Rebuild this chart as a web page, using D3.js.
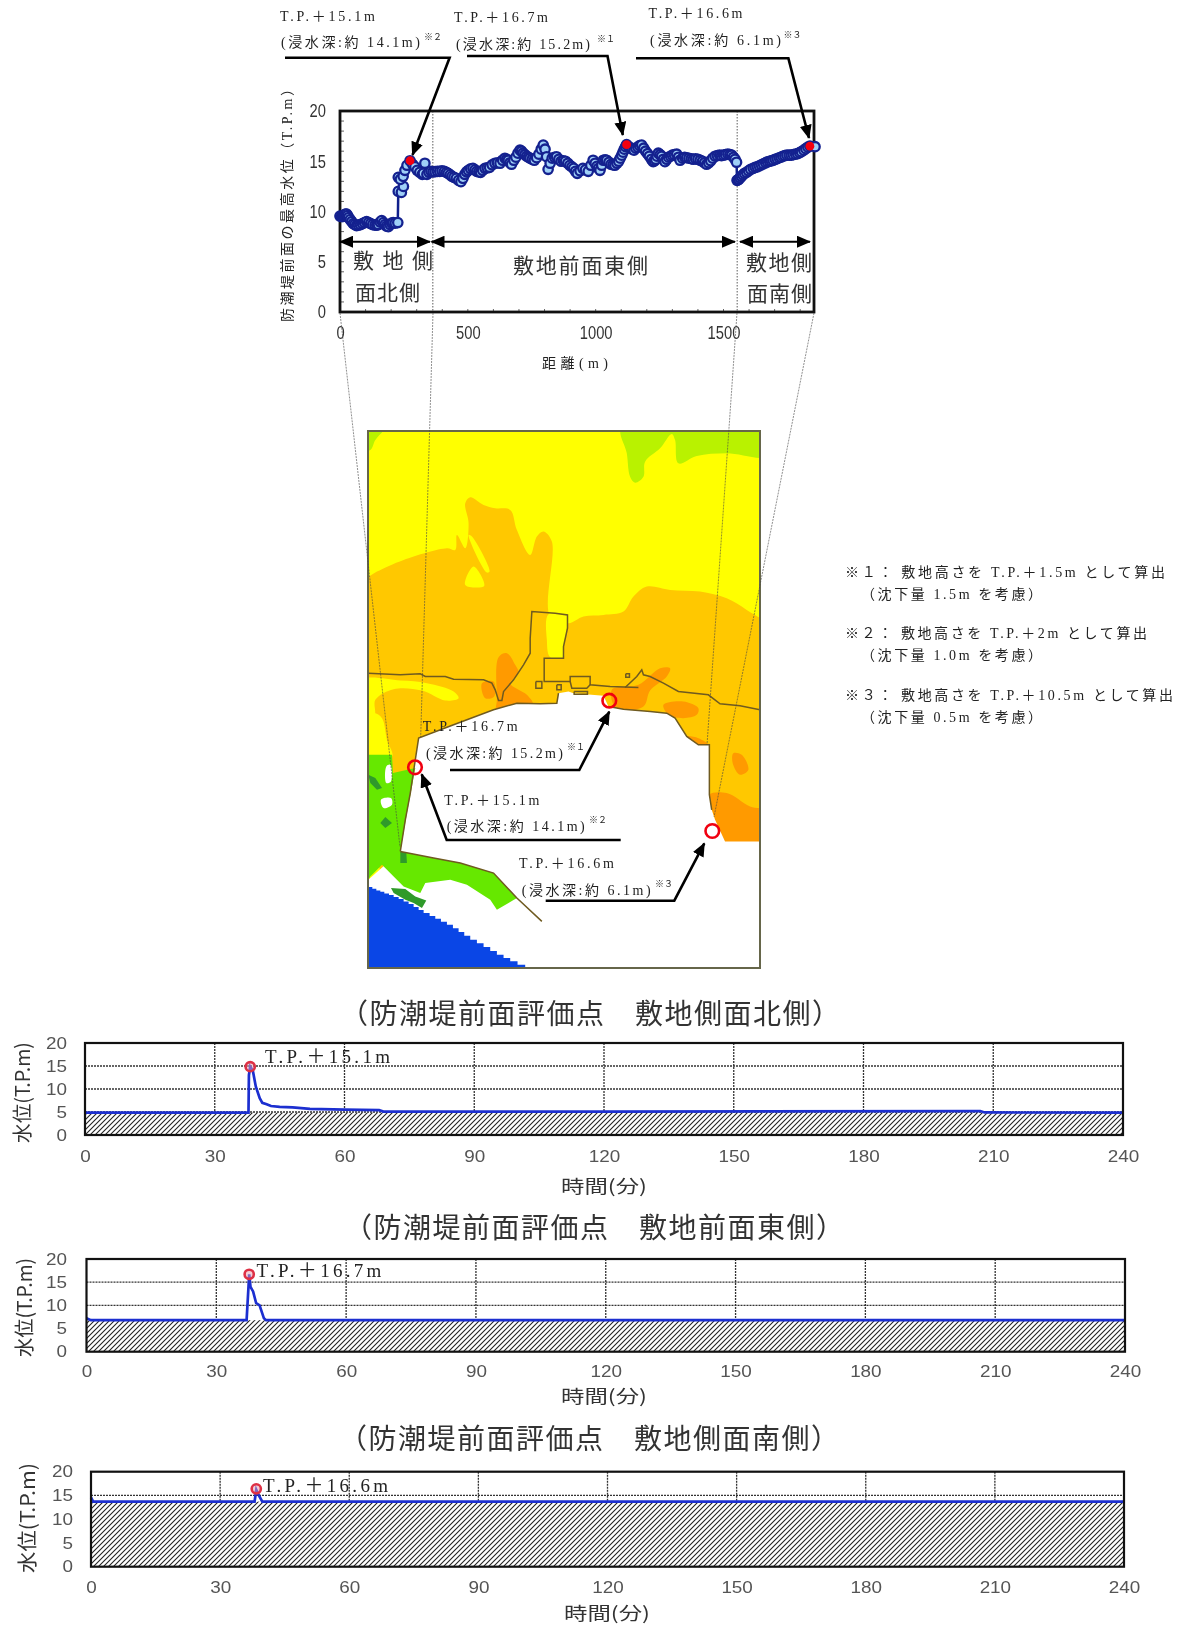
<!DOCTYPE html>
<html>
<head>
<meta charset="utf-8">
<script src="https://cdnjs.cloudflare.com/ajax/libs/d3/7.8.5/d3.min.js"></script>
<style>
html, body { margin: 0; padding: 0; background: #fff; }
svg { display: block; filter: blur(0.5px); }
</style>
</head>
<body>
<svg width="1186" height="1625"></svg>
<script>
// profile along the seawall: [distance (m), max water level (T.P. m)], in plotting order
var profilePoints = [[0,9.55],[6,9.5],[10,9.5],[14,9.6],[18,9.7],[22,9.75],[26,9.75],[30,9.6],[34,9.4],[40,9.2],[46,9.0],[52,8.8],[58,8.7],[65,8.6],[72,8.65],[80,8.7],[88,8.8],[96,8.9],[104,9.0],[112,8.9],[120,8.8],[128,8.7],[137,8.65],[144,8.65],[150,8.7],[157,8.95],[163,9.1],[170,8.9],[176,8.7],[182,8.55],[189,8.5],[196,8.7],[202,8.85],[208,8.9],[216,8.85],[226,8.9],
  [228,12.0],[240,11.9],[248,12.5],[238,13.3],[228,13.4],[236,13.2],[247,13.5],[254,14.1],[262,14.6],[274,15.05],[284,14.7],[293,14.45],[302,14.1],[312,13.9],[322,13.7],[332,14.8],[326,13.8],
  [340,13.7],[348,13.9],[356,14],[364,13.95],[372,13.96],[381,14],[390,14],[399,14.05],[408,14],[416,13.9],[423,13.8],[431,13.65],[438,13.5],[446,13.4],[455,13.3],[464,13.1],[473,12.97],[481,13.3],[488,13.7],[495,13.95],[502,14.1],[511,14.25],[520,14.3],[528,14.15],[535,14],[543,13.95],[550,13.9],[558,14.1],[567,14.3],[576,14.35],[585,14.4],[595,14.65],[606,14.8],[616,14.85],[626,14.8],[636,15.1],[645,15.3],[652,15.2],[658,15.1],[665,14.85],[671,14.7],[680,15.1],[688,15.4],[696,15.8],[704,16.1],[710,16],[716,15.8],[723,15.65],[730,15.5],[737,15.4],[743,15.3],[752,15.2],[760,15.1],[769,15.35],[778,15.7],[787,16.2],[795,16.6],[802,16.2],[808,15.45],[814,14.2],[822,14.8],[830,15.3],[839,15.4],[847,15.45],[856,15.2],[865,15],[874,15.05],[882,15],[891,14.8],[899,14.6],[907,14.45],[914,14.3],[921,14],[928,13.8],[939,14.05],[950,14.3],[960,14.15],[971,14],[981,14.6],[990,15.1],[998,14.8],[1005,14.5],[1011,14.3],[1017,14.1],[1024,14.6],[1030,15.1],[1037,15.15],[1043,15.1],[1052,14.9],[1060,14.7],[1068,14.65],[1075,14.6],[1083,14.8],[1090,15],[1096,15.3],[1102,15.6],[1107,15.9],[1112,16.2],[1117,16.45],[1121,16.65],[1129,16.45],[1136,16.3],[1143,16.2],[1150,16.1],[1157,16.3],[1165,16.4],[1172,16.55],[1180,16.6],[1188,16.3],[1195,16],[1203,15.75],[1210,15.5],[1218,15.2],[1225,14.96],[1230,15.05],[1235,15.2],[1240,15.5],[1245,15.8],[1252,15.65],[1258,15.5],[1265,15.2],[1271,14.96],[1278,15.2],[1285,15.4],[1293,15.5],[1300,15.6],[1308,15.65],[1317,15.7],[1324,15.4],[1330,15.1],
  [1340,15.3],[1348,15.4],[1356,15.35],[1365,15.3],[1374,15.25],[1382,15.2],[1391,15.25],[1400,15.2],[1409,15.1],[1418,15],[1426,14.85],[1434,14.7],[1442,14.85],[1450,15.05],[1458,15.3],[1467,15.5],[1476,15.55],[1485,15.6],[1492,15.55],[1500,15.6],[1508,15.65],[1517,15.7],[1525,15.65],[1532,15.6],[1539,15.4],[1545,15.2],[1551,14.9],
  [1553,13.1],[1556,13.15],[1560,13.2],[1565,13.35],[1570,13.5],[1576,13.65],[1582,13.8],[1590,13.9],[1598,14.05],[1606,14.2],[1616,14.3],[1624,14.4],[1632,14.45],[1640,14.55],[1648,14.65],[1656,14.75],[1665,14.85],[1672,14.95],[1680,15],[1687,15.05],[1694,15.1],[1702,15.2],[1710,15.25],[1718,15.35],[1725,15.4],[1732,15.5],[1740,15.55],[1748,15.6],[1757,15.6],[1765,15.6],[1773,15.65],[1782,15.7],[1790,15.75],[1798,15.85],[1805,15.95],[1814,16.1],[1822,16.25],[1830,16.4],[1838,16.5],[1858,16.45]];
var peakDistances = [274, 1121, 1838];
var peakLevels = [15.05, 16.65, 16.5];
var distanceTicks = [0, 500, 1000, 1500];
var levelTicks = [0, 5, 10, 15, 20];
var timeTicks = [0, 30, 60, 90, 120, 150, 180, 210, 240];

// time series under the map
var timesNorth = [0,37.8,37.9,38.2,38.8,39.5,40.4,41,42,43,45,48,52,60,68,69,120,207,208,240];
var levelsNorth = [4.85,4.85,13,14.85,14,10.5,8,7,6.7,6.3,6.1,6,5.7,5.5,5.4,5.1,5.1,5.2,4.9,4.85];
var timesEast = [0,1,37,37.6,37.9,38.5,39.2,40,41,41.5,240];
var levelsEast = [7.2,6.8,6.8,16.7,14,13,10.5,10,7.2,6.8,6.8];
var timesSouth = [0,0.5,38,38.4,39,39.8,240];
var levelsSouth = [14.6,13.7,13.7,16.2,15,13.7,13.7];

var panelTitles = ['（防潮堤前面評価点　敷地側面北側）', '（防潮堤前面評価点　敷地前面東側）', '（防潮堤前面評価点　敷地側面南側）'];
var panelPeakLabels = ['T.P.＋15.1m', 'T.P.＋16.7m', 'T.P.＋16.6m'];
var panelBaseLevels = [4.85, 6.8, 13.7];
var panelPeakTimes = [38.2, 37.6, 38.4];
var panelPeakLevels = [14.85, 16.7, 16.4];

var footnotes = ['※１： 敷地高さを T.P.＋1.5m として算出', '（沈下量 1.5m を考慮）', '※２： 敷地高さを T.P.＋2m として算出', '（沈下量 1.0m を考慮）', '※３： 敷地高さを T.P.＋10.5m として算出', '（沈下量 0.5m を考慮）'];

// map shapes, in grid units of the inundation map
var lightGreenAreas = [
  [[30,20],[105,20],[75,60],[60,90],[30,90]],
  [[815,20],[1260,20],[1260,108],[1130,100],[1040,108],[985,130],[975,60],[965,42],[930,85],[885,125],[880,170],[855,188],[840,170],[830,100]]
];
var orangeArea = [[20,480],[54,470],[80,455],[160,420],[290,385],[315,390],[320,345],[345,385],[355,310],[345,250],[360,232],[400,255],[435,265],[480,270],[500,330],[540,405],[560,350],[580,335],[605,365],[600,590],[655,610],[700,590],[760,585],[820,575],[850,530],[890,500],[960,510],[1050,515],[1130,535],[1190,570],[1260,630],[1260,1300],[20,1300]];
var yellowAreas = [
  [[595,583],[650,585],[650,625],[640,680],[640,712],[600,712],[590,660]],
  [[355,345],[365,350],[418,455],[410,458]],
  [[345,495],[370,440],[402,498]],
  [[30,782],[150,782],[230,790],[310,815],[325,835],[285,842],[215,812],[130,808],[75,840],[72,885],[30,880]],
  [[30,878],[70,878],[95,895],[110,960],[125,1010],[30,1010]]
];
var deepOrangeAreas = [
  [[445,712],[470,700],[495,735],[505,760],[480,790],[530,825],[548,855],[440,875],[440,840]],
  [[395,790],[430,785],[432,830],[405,835]],
  [[865,795],[930,745],[960,745],[950,770],[900,812],[880,860],[800,868],[785,810]],
  [[940,855],[1000,845],[1045,865],[1040,885],[1000,895],[955,885]],
  [[1150,1000],[1175,1005],[1195,1050],[1170,1065],[1148,1030]],
  [[1078,1125],[1130,1120],[1200,1160],[1260,1175],[1260,1300],[1125,1300],[1095,1200],[1085,1170]],
  [[1010,950],[1045,955],[1075,975],[1045,985]]
];
var landWhite = [[205,955],[310,915],[430,870],[500,850],[570,852],[620,850],[625,820],[655,815],[670,820],[760,828],[775,860],[820,868],[900,875],[950,880],[975,895],[1010,950],[1045,975],[1078,975],[1078,1125],[1085,1170],[1095,1200],[1125,1265],[1230,1265],[1230,1645],[54,1645],[54,1380],[150,1295]];
var greenArea = [[54,1005],[125,1005],[128,1060],[195,1045],[185,1100],[170,1180],[150,1295],[250,1315],[330,1330],[430,1360],[500,1435],[440,1470],[420,1440],[350,1395],[300,1380],[225,1390],[210,1420],[160,1400],[130,1370],[95,1335],[60,1370],[54,1380]];
var greenHoles = [
  [[92,1140],[122,1135],[125,1155],[100,1165]],
  [[108,1040],[120,1035],[122,1085],[108,1090]]
];
var darkGreenAreas = [
  [[105,1192],[125,1210],[105,1225],[90,1210]],
  [[150,1295],[168,1300],[170,1330],[150,1330]],
  [[122,1405],[165,1408],[195,1430],[228,1442],[215,1465],[190,1450],[165,1440],[130,1420]],
  [[54,1065],[75,1075],[95,1105],[80,1110],[60,1090]]
];
var seaArea = [[54,1402],[66,1407],[78,1412],[90,1416],[102,1421],[116,1426],[130,1432],[145,1438],[160,1445],[175,1453],[190,1462],[205,1471],[220,1480],[238,1489],[255,1497],[272,1506],[290,1515],[308,1526],[325,1537],[342,1548],[360,1560],[380,1571],[400,1582],[420,1594],[440,1605],[460,1615],[480,1625],[502,1635],[525,1645],[54,1645]];
var outlines = [
  [[54,760],[150,765],[210,762],[225,770],[285,770],[310,778],[400,780],[425,790],[435,810],[445,842],[455,842],[460,815],[490,780],[520,735],[540,700],[540,655],[545,575],[615,580],[652,585],[652,625],[640,680],[640,715],[582,715],[582,785],[660,785],[660,770],[720,770],[720,795],[780,800],[865,803]],
  [[825,803],[860,770],[875,750],[880,765],[900,770],[940,790],[985,815],[1075,825],[1110,852],[1170,858],[1230,870]],
  [[660,785],[665,805],[710,805],[720,795]],
  [[557,785],[575,785],[575,805],[557,805],[557,785]],
  [[620,795],[633,795],[633,810],[620,810],[620,795]],
  [[827,762],[838,762],[838,772],[827,772],[827,762]],
  [[672,815],[712,815],[712,823],[672,823],[672,815]],
  [[150,1295],[165,1200],[180,1120],[195,1020],[205,955],[310,915],[430,870],[500,850],[570,852],[620,850],[625,820]],
  [[775,860],[820,868],[900,875],[950,880],[975,895],[1010,950],[1045,975],[1078,975],[1078,1125],[1085,1170]],
  [[150,1295],[250,1315],[330,1330],[430,1360],[500,1435],[575,1505]]
];

var svg = d3.select('svg');
var sansFont = '"Liberation Sans", Arial, sans-serif';
var minchoFont = '"Liberation Serif", "Noto Sans CJK JP", serif';
var cjkFont = '"Noto Sans CJK JP", sans-serif';
var line = d3.line().x(function(d) { return d[0]; }).y(function(d) { return d[1]; });

var defs = svg.append('defs');
defs.append('marker')
  .attr('id', 'head').attr('markerUnits', 'userSpaceOnUse')
  .attr('markerWidth', 14).attr('markerHeight', 12)
  .attr('refX', 13).attr('refY', 6).attr('orient', 'auto-start-reverse')
  .append('path').attr('d', 'M0,0L14,6L0,12Z').attr('fill', '#000');

var hatch = defs.append('pattern')
  .attr('id', 'hatch').attr('patternUnits', 'userSpaceOnUse')
  .attr('width', 5).attr('height', 5);
hatch.append('path').attr('d', 'M-1,6L6,-1M-1,1L1,-1M4,6L6,4').attr('stroke', '#222').attr('stroke-width', 1.1);

defs.append('clipPath').attr('id', 'mapClip').append('rect')
  .attr('x', 368).attr('y', 431).attr('width', 392).attr('height', 537);

// fitted text: the width is forced so it lines up with the Mincho in the reference
function label(x, y, str, width, size, opts) {
  opts = opts || {};
  var t = svg.append('text')
    .attr('x', x).attr('y', y)
    .attr('font-family', opts.font || minchoFont)
    .attr('font-size', size)
    .attr('fill', opts.fill || '#222')
    .text(str);
  if (width) t.attr('textLength', width).attr('lengthAdjust', opts.adjust || 'spacing');
  if (opts.rotate) t.attr('transform', 'rotate(-90,' + x + ',' + y + ')');
  return t;
}

function arrowLine(points, width) {
  svg.append('path').attr('d', line(points))
    .attr('fill', 'none').attr('stroke', '#000').attr('stroke-width', width || 2.6)
    .attr('marker-end', 'url(#head)');
}

function callout(x1, y1, w1, x2, y2, w2, nx, ny, first, second, note) {
  label(x1, y1, first, w1, 14);
  label(x2, y2, second, w2, 14);
  label(nx, ny, note, 18, 9, {font: cjkFont});
}

function styleTicks(axis, size, fill, digitWidth) {
  axis.select('.domain').remove();
  axis.selectAll('text')
    .attr('font-family', sansFont).attr('font-size', size).attr('fill', fill)
    .attr('lengthAdjust', 'spacingAndGlyphs')
    .attr('textLength', function() { return this.textContent.length * digitWidth; });
}

/* ---------- profile chart ---------- */
var profileX = d3.scaleLinear().domain([0, 1500]).range([340, 723.5]);
var profileY = d3.scaleLinear().domain([0, 20]).range([312, 111]);

var minorX = d3.range(100, 1900, 100);
var minorY = d3.range(1, 20);
svg.append('g').selectAll('line').data(minorX).enter().append('line')
  .attr('x1', profileX).attr('x2', profileX).attr('y1', 312).attr('y2', 309)
  .attr('stroke', '#666').attr('stroke-width', 1);
svg.append('g').selectAll('line').data(minorY).enter().append('line')
  .attr('y1', profileY).attr('y2', profileY).attr('x1', 340).attr('x2', 344)
  .attr('stroke', '#666').attr('stroke-width', 1);

[432.8, 737.2].forEach(function(x) {
  svg.append('line').attr('x1', x).attr('x2', x).attr('y1', 111).attr('y2', 312)
    .attr('stroke', '#777').attr('stroke-width', 1.2).attr('stroke-dasharray', '1.5,1.5');
});

svg.append('rect').attr('x', 340).attr('y', 111).attr('width', 474).attr('height', 201)
  .attr('fill', 'none').attr('stroke', '#111').attr('stroke-width', 2.8);

svg.append('path')
  .attr('d', d3.line().x(function(d) { return profileX(d[0]); }).y(function(d) { return profileY(d[1]); })(profilePoints))
  .attr('fill', 'none').attr('stroke', '#10208c').attr('stroke-width', 2.5);
svg.append('g').selectAll('circle').data(profilePoints).enter().append('circle')
  .attr('cx', function(d) { return profileX(d[0]); })
  .attr('cy', function(d) { return profileY(d[1]); })
  .attr('r', 4.7)
  .attr('fill', '#9fd0f7').attr('stroke', '#14218f').attr('stroke-width', 2.3);
svg.append('g').selectAll('circle').data(d3.zip(peakDistances, peakLevels)).enter().append('circle')
  .attr('cx', function(d) { return profileX(d[0]); })
  .attr('cy', function(d) { return profileY(d[1]); })
  .attr('r', 4.4).attr('fill', '#f5000f');

var profileAxisX = svg.append('g').attr('transform', 'translate(0,312)')
  .call(d3.axisBottom(profileX).tickValues(distanceTicks).tickFormat(d3.format('d')).tickSize(0).tickPadding(14));
var profileAxisY = svg.append('g').attr('transform', 'translate(340,0)')
  .call(d3.axisLeft(profileY).tickValues(levelTicks).tickSize(0).tickPadding(14));
styleTicks(profileAxisX, 18, '#333', 8.2);
styleTicks(profileAxisY, 18, '#333', 8.2);

label(292, 322, '防潮堤前面の最高水位（T.P.m）', 240, 14, {rotate: true});
label(542, 368, '距離(m)', 66, 14);

function doubleArrow(x1, x2, y) {
  svg.append('line').attr('x1', x1).attr('x2', x2).attr('y1', y).attr('y2', y)
    .attr('stroke', '#000').attr('stroke-width', 2)
    .attr('marker-start', 'url(#head)').attr('marker-end', 'url(#head)');
}
doubleArrow(340, 430, 241.7);
doubleArrow(431.5, 735, 241.7);
doubleArrow(740, 810, 241.7);

label(353, 268, '敷 地 側', 80, 21, {font: cjkFont, fill: '#333'});
label(355, 300, '面北側', 65, 21, {font: cjkFont, fill: '#333'});
label(513, 273, '敷地前面東側', 135, 21, {font: cjkFont, fill: '#333'});
label(746, 270, '敷地側', 66, 21, {font: cjkFont, fill: '#333'});
label(747, 301, '面南側', 65, 21, {font: cjkFont, fill: '#333'});

callout(280, 21, 95, 281, 46.7, 139, 424, 40, 'T.P.＋15.1m', '(浸水深:約 14.1m)', '※２');
callout(454, 22, 94, 456, 49, 134, 597, 42, 'T.P.＋16.7m', '(浸水深:約 15.2m)', '※１');
callout(648.5, 18, 94, 650, 45, 131, 783.5, 38, 'T.P.＋16.6m', '(浸水深:約 6.1m)', '※３');
arrowLine([[285, 57.7], [449.6, 57.7], [412.5, 155]]);
arrowLine([[467, 56], [607.5, 56], [622.8, 135]]);
arrowLine([[636, 58.3], [788.4, 58.3], [809, 138]]);

/* ---------- inundation map ---------- */
var mapX = d3.scaleLinear().domain([53, 1230]).range([368, 760]);
var mapY = d3.scaleLinear().domain([33, 1645]).range([431, 968]);
var mapLine = d3.line().x(function(d) { return mapX(d[0]); }).y(function(d) { return mapY(d[1]); });
var contour = d3.line().x(function(d) { return mapX(d[0]); }).y(function(d) { return mapY(d[1]); })
  .curve(d3.curveCatmullRomClosed.alpha(0.5));
var seaStep = d3.line().x(function(d) { return mapX(d[0]); }).y(function(d) { return mapY(d[1]); })
  .curve(d3.curveStepAfter);
var mapGroup = svg.append('g').attr('clip-path', 'url(#mapClip)');

function fillAreas(areas, colour, gen) {
  mapGroup.append('g').selectAll('path').data(areas).enter().append('path')
    .attr('d', function(d) { return gen(d); })
    .attr('fill', colour);
}
function polygon(d) { return mapLine(d) + 'Z'; }

mapGroup.append('rect').attr('x', 368).attr('y', 431).attr('width', 392).attr('height', 537).attr('fill', '#ffff00');
fillAreas(lightGreenAreas, '#b9f200', contour);
fillAreas([orangeArea], '#ffc800', contour);
fillAreas(yellowAreas, '#ffff00', contour);
fillAreas(deepOrangeAreas, '#ff9a00', contour);
fillAreas([landWhite], '#fff', polygon);
fillAreas([greenArea], '#66e800', polygon);
fillAreas(greenHoles, '#fff', contour);
fillAreas(darkGreenAreas, '#2f9a2a', polygon);
fillAreas([seaArea], '#0a46e6', seaStep);

mapGroup.append('g').selectAll('path').data(outlines).enter().append('path')
  .attr('d', mapLine)
  .attr('fill', 'none').attr('stroke', '#6f5a20').attr('stroke-width', 1.5);
svg.append('rect').attr('x', 368).attr('y', 431).attr('width', 392).attr('height', 537)
  .attr('fill', 'none').attr('stroke', '#66664a').attr('stroke-width', 2);

// guide lines from the profile chart down through the map
[[340, 313, 400, 847], [433, 313, 420.7, 737], [737, 313, 707, 745], [814, 313, 714, 817]].forEach(function(g) {
  svg.append('line').attr('x1', g[0]).attr('y1', g[1]).attr('x2', g[2]).attr('y2', g[3])
    .attr('stroke', '#444').attr('stroke-width', 0.6).attr('stroke-dasharray', '2,1');
});

[[609.3, 700.7], [415, 767.3], [712.3, 831]].forEach(function(c) {
  svg.append('circle').attr('cx', c[0]).attr('cy', c[1]).attr('r', 6.8)
    .attr('fill', 'none').attr('stroke', '#f00010').attr('stroke-width', 2.6);
});

callout(422.7, 730.7, 95, 426, 757.7, 137, 567, 750, 'T.P.＋16.7m', '(浸水深:約 15.2m)', '※１');
callout(444.3, 805, 95, 446.7, 831, 138, 589, 823, 'T.P.＋15.1m', '(浸水深:約 14.1m)', '※２');
callout(519, 868, 95, 521.7, 895, 129, 655, 887, 'T.P.＋16.6m', '(浸水深:約 6.1m)', '※３');
arrowLine([[450, 770], [579.3, 770], [609.3, 711.7]]);
arrowLine([[620.7, 840], [446.7, 840], [421.7, 774.3]]);
arrowLine([[545.7, 900.7], [674.3, 900.7], [704.3, 843.3]]);

/* ---------- footnotes ---------- */
label(845, 577, footnotes[0], 320, 14);
label(861, 599, footnotes[1], 181, 14);
label(845, 638, footnotes[2], 302, 14);
label(861, 660, footnotes[3], 181, 14);
label(845, 700, footnotes[4], 328, 14);
label(861, 722, footnotes[5], 181, 14);

/* ---------- time series panels ---------- */
function drawPanel(cfg) {
  var x = d3.scaleLinear().domain([0, 240]).range([cfg.left, cfg.right]);
  var y = d3.scaleLinear().domain([0, 20]).range([cfg.bottom, cfg.top]);
  var baseY = y(panelBaseLevels[cfg.i]);

  label(cfg.titleX, cfg.titleY, panelTitles[cfg.i], 500, 28, {font: cjkFont, fill: '#333'});

  svg.append('rect').attr('x', cfg.left).attr('y', baseY)
    .attr('width', cfg.right - cfg.left).attr('height', cfg.bottom - baseY)
    .attr('fill', 'url(#hatch)');

  svg.append('g').selectAll('line').data(timeTicks.slice(1, -1)).enter().append('line')
    .attr('x1', x).attr('x2', x).attr('y1', cfg.top).attr('y2', baseY)
    .attr('stroke', '#333').attr('stroke-width', 1.3).attr('stroke-dasharray', '2,1');
  svg.append('g').selectAll('line')
    .data(levelTicks.slice(1, -1).filter(function(v) { return v > panelBaseLevels[cfg.i]; }))
    .enter().append('line')
    .attr('y1', y).attr('y2', y).attr('x1', cfg.left).attr('x2', cfg.right)
    .attr('stroke', '#333').attr('stroke-width', 1.3).attr('stroke-dasharray', '2,1');

  svg.append('path')
    .attr('d', d3.line().x(function(d) { return x(d[0]); }).y(function(d) { return y(d[1]); })(d3.zip(cfg.times, cfg.levels)))
    .attr('fill', 'none').attr('stroke', '#1c2fd0').attr('stroke-width', 2.7);

  svg.append('circle').attr('cx', x(panelPeakTimes[cfg.i])).attr('cy', y(panelPeakLevels[cfg.i]))
    .attr('r', 4.6).attr('fill', '#e8a0b0').attr('fill-opacity', 0.5)
    .attr('stroke', '#de3045').attr('stroke-width', 2.6);

  svg.append('rect').attr('x', cfg.left).attr('y', cfg.top)
    .attr('width', cfg.right - cfg.left).attr('height', cfg.bottom - cfg.top)
    .attr('fill', 'none').attr('stroke', '#111').attr('stroke-width', 2.2);

  var ax = svg.append('g').attr('transform', 'translate(0,' + cfg.bottom + ')')
    .call(d3.axisBottom(x).tickValues(timeTicks).tickSize(0).tickPadding(cfg.xPad));
  var ay = svg.append('g').attr('transform', 'translate(' + cfg.left + ',0)')
    .call(d3.axisLeft(y).tickValues(levelTicks).tickSize(0).tickPadding(cfg.yPad));
  styleTicks(ax, 16, '#555', 10.5);
  styleTicks(ay, 16, '#555', 10.5);

  label(cfg.yLabelX, cfg.yLabelY, '水位(T.P.m)', cfg.yLabelW, 20, {font: cjkFont, fill: '#333', rotate: true, adjust: 'spacingAndGlyphs'});
  label(cfg.xLabelX, cfg.xLabelY, '時間(分)', 86, 18, {font: cjkFont, fill: '#333', adjust: 'spacingAndGlyphs'});
  label(cfg.peakX, cfg.peakY, panelPeakLabels[cfg.i], 125, 19);
}

drawPanel({i: 0, left: 85, right: 1123, top: 1043, bottom: 1135, xPad: 16, yPad: 18,
  times: timesNorth, levels: levelsNorth,
  titleX: 340, titleY: 1024, yLabelX: 30, yLabelY: 1143, yLabelW: 101,
  xLabelX: 561, xLabelY: 1193, peakX: 265, peakY: 1063});
drawPanel({i: 1, left: 86.5, right: 1125, top: 1259, bottom: 1351.7, xPad: 14, yPad: 19.5,
  times: timesEast, levels: levelsEast,
  titleX: 344, titleY: 1238, yLabelX: 32, yLabelY: 1357, yLabelW: 99,
  xLabelX: 561, xLabelY: 1403, peakX: 256.4, peakY: 1277});
drawPanel({i: 2, left: 91, right: 1124, top: 1471.7, bottom: 1566.7, xPad: 15, yPad: 18,
  times: timesSouth, levels: levelsSouth,
  titleX: 339, titleY: 1449, yLabelX: 35, yLabelY: 1573, yLabelW: 110,
  xLabelX: 564, xLabelY: 1620, peakX: 263, peakY: 1491.7});
</script>
</body>
</html>
